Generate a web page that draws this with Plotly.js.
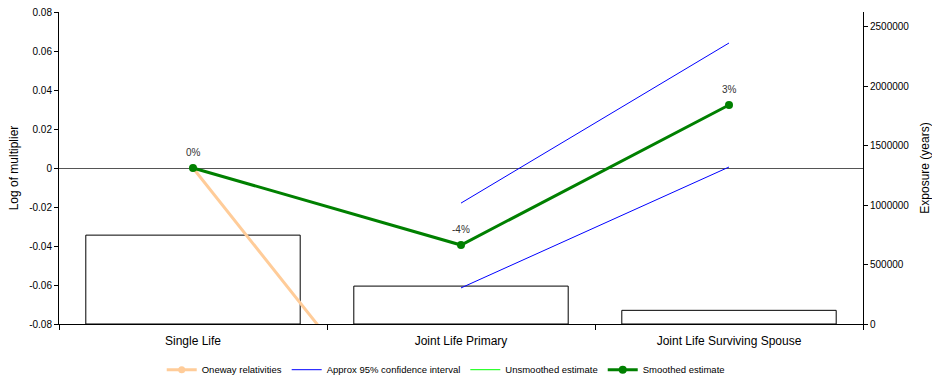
<!DOCTYPE html>
<html>
<head>
<meta charset="utf-8">
<script src="https://cdn.plot.ly/plotly-3.0.1.min.js"></script>
<style>
  html, body { margin: 0; padding: 0; background: #fff; }
  #chart { width: 932px; height: 379px; }
</style>
</head>
<body>
<div id="chart"></div>
<script>
// Categories along the x axis
const categories = ["Single Life", "Joint Life Primary", "Joint Life Surviving Spouse"];

// Exposure per category (years), right axis
const exposure = [748000, 319000, 115000];

// Log of multiplier series, left axis
const onewayRelativities = [0, -0.173, -0.14];
const ciUpper = [null, -0.018, 0.0641];
const ciLower = [null, -0.0615, 0.0005];
const unsmoothedEstimate = [0, -0.0395, 0.0323];
const smoothedEstimate = [0, -0.0395, 0.0323];

// Tick labels
const leftTickVals = [-0.08, -0.06, -0.04, -0.02, 0, 0.02, 0.04, 0.06, 0.08];
const leftTickText = ["-0.08", "-0.06", "-0.04", "-0.02", "0", "0.02", "0.04", "0.06", "0.08"];
const rightTickVals = [0, 500000, 1000000, 1500000, 2000000, 2500000];
const rightTickText = ["0", "500000", "1000000", "1500000", "2000000", "2500000"];

// Percent labels shown above the smoothed points
const smoothedLabels = smoothedEstimate.map(v => Math.round((Math.exp(v) - 1) * 100) + "%");

const FONT = "Liberation Sans, Arial, sans-serif";

const traces = [
  {
    type: "bar",
    x: categories,
    y: exposure,
    yaxis: "y",
    marker: { color: "#ffffff", line: { color: "#000000", width: 1 } },
    width: 0.8,
    showlegend: false,
    hoverinfo: "skip"
  },
  {
    type: "scatter",
    mode: "lines+markers",
    name: "Oneway relativities",
    x: categories,
    y: onewayRelativities,
    yaxis: "y2",
    line: { color: "#FFCC99", width: 3 },
    marker: { color: "#FFCC99", size: 7 }
  },
  {
    type: "scatter",
    mode: "lines",
    name: "Approx 95% confidence interval",
    legendgroup: "ci",
    x: categories,
    y: ciUpper,
    yaxis: "y2",
    line: { color: "#0000FF", width: 1 }
  },
  {
    type: "scatter",
    mode: "lines",
    name: "Approx 95% confidence interval",
    legendgroup: "ci",
    showlegend: false,
    x: categories,
    y: ciLower,
    yaxis: "y2",
    line: { color: "#0000FF", width: 1 }
  },
  {
    type: "scatter",
    mode: "lines",
    name: "Unsmoothed estimate",
    x: categories,
    y: unsmoothedEstimate,
    yaxis: "y2",
    line: { color: "#00FF00", width: 1 }
  },
  {
    type: "scatter",
    mode: "lines+markers",
    name: "Smoothed estimate",
    x: categories,
    y: smoothedEstimate,
    yaxis: "y2",
    line: { color: "#008000", width: 3 },
    marker: { color: "#008000", size: 8 }
  }
];

// Percent labels placed above each smoothed point
const annotations = categories.map((c, i) => ({
  x: c,
  y: smoothedEstimate[i],
  xref: "x",
  yref: "y2",
  text: smoothedLabels[i],
  showarrow: false,
  yshift: 16,
  font: { family: FONT, size: 10, color: "#333333" }
}));

const layout = {
  width: 932,
  height: 379,
  margin: { l: 59, r: 69, t: 12, b: 55, autoexpand: false },
  paper_bgcolor: "#ffffff",
  plot_bgcolor: "#ffffff",
  font: { family: FONT, size: 10, color: "#000000" },
  bargap: 0.2,
  annotations: annotations,
  xaxis: {
    type: "category",
    range: [-0.5, 2.5],
    showgrid: false,
    zeroline: false,
    showline: true,
    linecolor: "#000000",
    linewidth: 1,
    ticks: "outside",
    tickson: "boundaries",
    ticklen: 5,
    tickcolor: "#000000",
    ticklabelstandoff: 6,
    tickfont: { family: FONT, size: 12, color: "#000000" },
    fixedrange: true
  },
  yaxis: {
    side: "right",
    range: [0, 2626000],
    tickvals: rightTickVals,
    ticktext: rightTickText,
    showgrid: false,
    zeroline: false,
    showline: true,
    linecolor: "#000000",
    ticks: "outside",
    ticklen: 4,
    tickcolor: "#000000",
    tickfont: { family: FONT, size: 10, color: "#000000" },
    title: { text: "Exposure (years)", font: { family: FONT, size: 12 }, standoff: 12 },
    fixedrange: true
  },
  yaxis2: {
    side: "left",
    overlaying: "y",
    range: [-0.08, 0.08],
    tickvals: leftTickVals,
    ticktext: leftTickText,
    showgrid: false,
    zeroline: true,
    zerolinecolor: "#555555",
    zerolinewidth: 1,
    showline: true,
    linecolor: "#000000",
    ticks: "outside",
    ticklen: 4,
    tickcolor: "#000000",
    tickfont: { family: FONT, size: 10, color: "#000000" },
    title: { text: "Log of multiplier", font: { family: FONT, size: 12 }, standoff: 8 },
    fixedrange: true
  },
  showlegend: true,
  legend: {
    orientation: "h",
    x: 0.481,
    xanchor: "center",
    y: -0.1,
    yanchor: "top",
    font: { family: FONT, size: 9.5, color: "#000000" },
    itemwidth: 30,
    tracegroupgap: 0,
    traceorder: "normal"
  }
};

Plotly.newPlot("chart", traces, layout, { displayModeBar: false, staticPlot: true });
</script>
</body>
</html>
